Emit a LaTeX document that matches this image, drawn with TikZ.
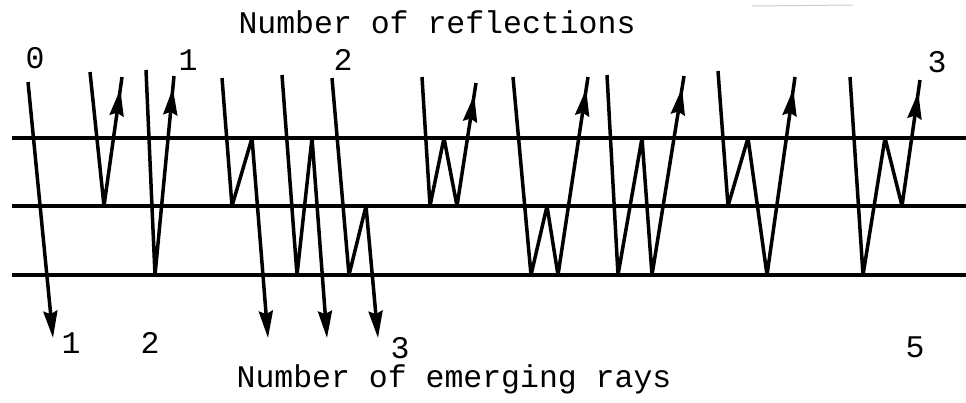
\documentclass[tikz,border=0pt]{standalone}
\usepackage{fontspec}
\setmonofont{Liberation Mono}
\usetikzlibrary{arrows.meta,decorations.markings}

\begin{document}
\begin{tikzpicture}[>={Stealth[length=27pt,width=14pt,inset=3pt]}, x=1pt, y=-1pt,
  every node/.style={font=\ttfamily\fontsize{31.5}{36}\selectfont, inner sep=0pt, anchor=base},
  plate/.style={line width=4.4pt},
  ray/.style={line width=3.5pt, line join=round},
  uptip/.style={postaction={decorate}, decoration={markings, mark=at position -12pt with {\arrow{>}}}}]
  \useasboundingbox (0,0) rectangle (966,402);
  % titles
  \node (reflections) at (437,33) {Number of reflections};
  \node (emerging) at (454,387) {Number of emerging rays};
  \draw[gray!40, line width=1pt] (752,6) -- (853,5);
  % surfaces
  \foreach \y in {138,206,275} \draw[plate] (12,\y) -- (966,\y);
  % counts
  \foreach \n/\x/\y in {0/35/68, 1/188/70, 2/343/70, 3/937/72} \node (refl\n) at (\x,\y) {\n};
  \foreach \n/\x/\y in {1/71/353, 2/150/353, 3/400/358, 5/915/357} \node (emerg\n) at (\x,\y) {\n};
  % no reflection
  \draw[ray, ->] (28,82) -- (53,338);
  % one reflection
  \draw[ray, uptip] (90,72) -- (104,206) -- (122,77);
  \draw[ray, uptip] (146,70) -- (155,275) -- (174,76);
  % two reflections
  \draw[ray, ->] (222,78) -- (232,206) -- (252,138) -- (268,338);
  \draw[ray, ->] (282,75) -- (297,275) -- (312,138) -- (327,338);
  \draw[ray, ->] (332,78) -- (349,275) -- (366,206) -- (378,338);
  % three reflections
  \draw[ray, uptip] (422,77) -- (430,206) -- (444,138) -- (457,206) -- (476,83);
  \draw[ray, uptip] (513,77) -- (531,275) -- (547,206) -- (558,275) -- (588,77);
  \draw[ray, uptip] (607,75) -- (618,275) -- (642,138) -- (652,275) -- (684,76);
  \draw[ray, uptip] (718,71) -- (728,206) -- (748,138) -- (767,275) -- (795,77);
  \draw[ray, uptip] (850,77) -- (863,275) -- (885,138) -- (902,206) -- (920,80);
\end{tikzpicture}
\end{document}
